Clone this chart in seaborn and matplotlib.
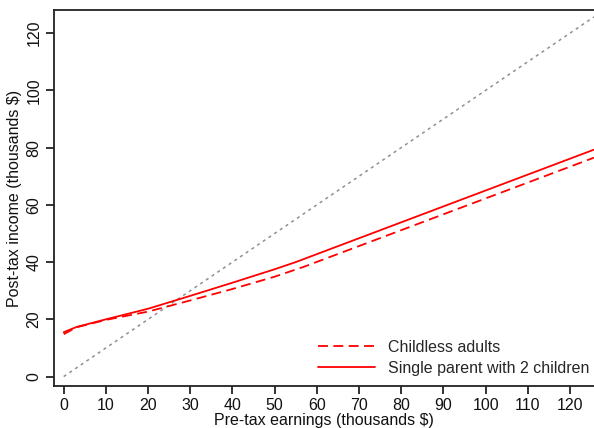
import numpy as np
import pandas as pd
import matplotlib
matplotlib.use("Agg")
import matplotlib.pyplot as plt
import seaborn as sns

# Data (thousands $)
childless_x = [0, 3, 10, 20, 30, 40, 50, 57, 125.7]
childless_y = [14.8, 17.2, 19.8, 22.7, 26.6, 30.6, 34.9, 38.4, 76.5]
parent_x = [0, 3, 10, 20, 30, 40, 50, 55, 125.7]
parent_y = [15.5, 17.3, 20.0, 23.7, 28.2, 32.8, 37.5, 40.0, 79.3]
diag_x = [0, 125.7]
diag_y = [0, 125.7]
series_names = ["Childless adults", "Single parent with 2 children"]
x_ticks = list(range(0, 121, 10))
y_ticks = list(range(0, 121, 20))

sns.set_style("ticks")
plt.rcParams['font.family'] = ['Liberation Sans', 'DejaVu Sans']

df = pd.concat([
    pd.DataFrame({"x": childless_x, "y": childless_y, "series": series_names[0]}),
    pd.DataFrame({"x": parent_x, "y": parent_y, "series": series_names[1]}),
])
diag = pd.DataFrame({"x": diag_x, "y": diag_y})

fig = plt.figure(figsize=(5.94, 4.28), dpi=100)
ax = fig.add_axes([54/594, 1-386/428, 1-54/594, (386-10)/428])

sns.lineplot(data=diag, x="x", y="y", ax=ax, color="#909090", lw=1.1,
             linestyle=(0, (2, 2.5)), legend=False)
sns.lineplot(data=df, x="x", y="y", hue="series", style="series", ax=ax,
             palette={series_names[0]: "#ff0000", series_names[1]: "#ff0000"},
             dashes={series_names[0]: (5.5, 3), series_names[1]: ""},
             lw=1.3, sort=False, estimator=None)

ax.set_xlim(-2.3, 125.7)
ax.set_ylim(-3.3, 128.1)
ax.set_xticks(x_ticks)
ax.set_yticks(y_ticks)
ax.tick_params(axis='both', direction='out', length=6, width=1.2, labelsize=11.5,
               colors='#111111', pad=3)
ax.tick_params(axis='y', labelrotation=90)
for lbl in ax.get_yticklabels():
    lbl.set_va('center')
ax.set_xlabel("Pre-tax earnings (thousands $)", fontsize=11.5, labelpad=0, color='#111111')
ax.set_ylabel("Post-tax income (thousands $)", fontsize=11.5, labelpad=3, color='#111111')
for s in ['left', 'bottom', 'top']:
    ax.spines[s].set_linewidth(1.3)
    ax.spines[s].set_color('#222222')
ax.spines['right'].set_visible(False)

leg = ax.legend(loc='lower right', frameon=False, fontsize=11.5, handlelength=3.6,
                bbox_to_anchor=(1.0, 0.015), borderaxespad=0.0, labelspacing=0.35,
                borderpad=0.3)
leg.set_title(None)

fig.savefig("out.png", dpi=100)
